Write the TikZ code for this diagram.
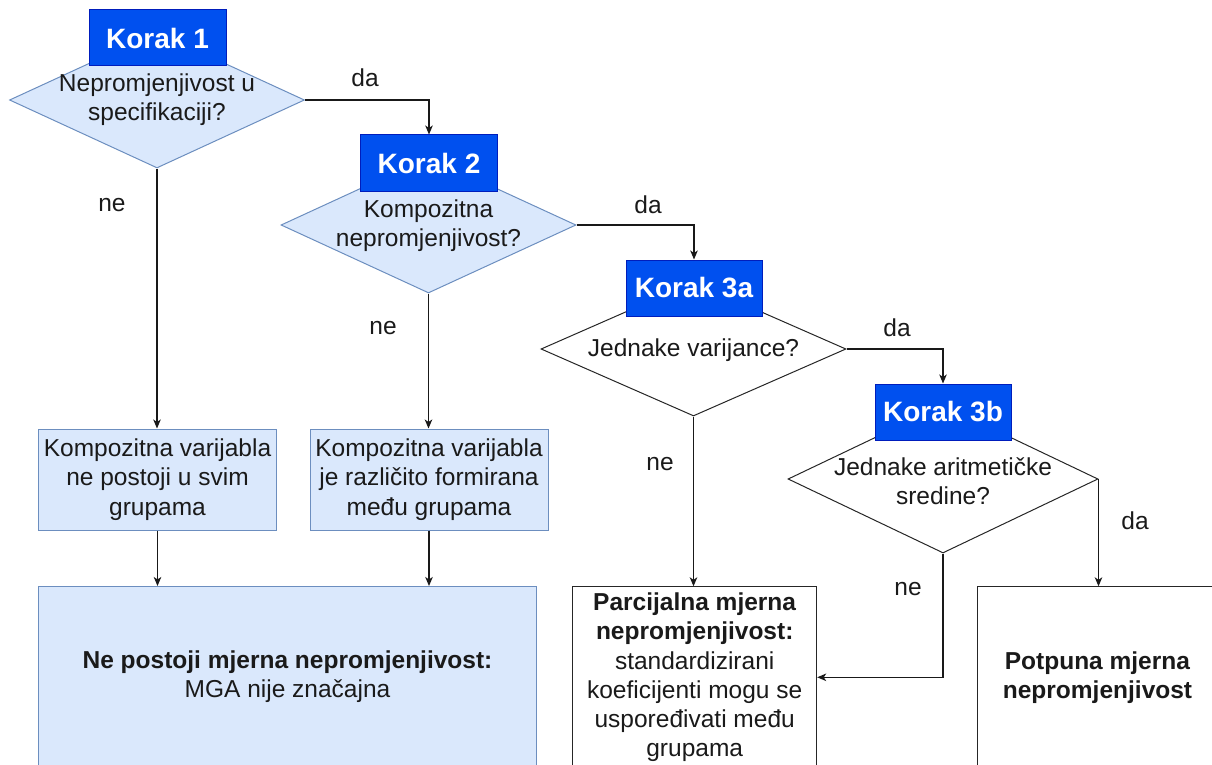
\documentclass[tikz,border=0pt]{standalone}
\usepackage{fontspec}
\setmainfont{Liberation Sans}
\usetikzlibrary{shapes.geometric,arrows.meta}
\definecolor{korakfill}{HTML}{0050EF}
\definecolor{korakline}{HTML}{001DBC}
\definecolor{lightfill}{HTML}{DAE8FC}
\definecolor{lightline}{HTML}{6C8EBF}
\definecolor{ink}{HTML}{1A1A1A}
\begin{document}
\begin{tikzpicture}[x=1pt,y=-1pt,
  every node/.style={font=\fontsize{24.5}{29.2}\selectfont, text=ink, align=center},
  korak/.style={rectangle, fill=korakfill, draw=korakline, line width=1pt,
    minimum width=137pt, minimum height=56pt, inner sep=0pt,
    text=white, font=\fontsize{28}{32}\selectfont\bfseries},
  question/.style={diamond, draw=lightline, fill=lightfill, line width=1pt, inner sep=0pt},
  plainq/.style={diamond, draw=black!85, fill=white, line width=1pt, inner sep=0pt},
  lbox/.style={rectangle, draw=lightline, fill=lightfill, line width=1pt, inner sep=0pt},
  wbox/.style={rectangle, draw=black!85, fill=white, line width=1pt, inner sep=0pt},
  arr/.style={draw=black!90, line width=1.2pt, -{Stealth[length=9pt,width=7.5pt,inset=2.5pt]}},
  edgelabel/.style={inner sep=0pt}
]
\useasboundingbox (0,0) rectangle (1212,765);
\clip (0,0) rectangle (1212,765);

% Step 1
\node[question, minimum width=295pt, minimum height=136pt] (d1) at (157,100) {};
\node (t1) at (157,100) {Nepromjenjivost u\\specifikaciji?};
\node[korak] (k1) at (157.5,38) {Korak 1};

% Step 2
\node[question, minimum width=295pt, minimum height=136pt] (d2) at (428.5,225) {};
\node (t2) at (428.5,226) {Kompozitna\\nepromjenjivost?};
\node[korak] (k2) at (429,163) {Korak 2};

% Step 3a
\node[plainq, minimum width=305pt, minimum height=134pt] (d3a) at (693.5,349) {};
\node (t3a) at (693.5,350) {Jednake varijance?};
\node[korak, minimum width=136pt] (k3a) at (694,288) {Korak 3a};

% Step 3b
\node[plainq, minimum width=310pt, minimum height=148pt] (d3b) at (943,479) {};
\node (t3b) at (943,481) {Jednake aritmetičke\\sredine?};
\node[korak, minimum width=136pt] (k3b) at (943,412) {Korak 3b};

% Result boxes
\node[lbox, minimum width=238pt, minimum height=101pt] (b1) at (157.5,479.5)
  {Kompozitna varijabla\\ne postoji u svim\\grupama};
\node[lbox, minimum width=238pt, minimum height=101pt] (b2) at (429,479.5)
  {Kompozitna varijabla\\je različito formirana\\među grupama};
\node[lbox, minimum width=498pt, minimum height=181pt] (big) at (287.5,677)
  {\textbf{Ne postoji mjerna nepromjenjivost:}\\MGA nije značajna};
\node[wbox, minimum width=244pt, minimum height=181pt] (par) at (694.7,677.3)
  {\textbf{Parcijalna mjerna}\\\textbf{nepromjenjivost:}\\standardizirani\\koeficijenti mogu se\\uspoređivati među\\grupama};
\node[wbox, minimum width=241pt, minimum height=181pt] (pot) at (1097.5,677.3)
  {\textbf{Potpuna mjerna}\\\textbf{nepromjenjivost}};

% Connectors
\draw[arr] (d1.east) -| (k2.north);
\draw[arr] (d2.east) -| (k3a.north);
\draw[arr] (d3a.east) -| (k3b.north);
\draw[arr] (d3b.east) -- (d3b.east |- pot.north);
\draw[arr] (d3b.south) |- (par.east);
\draw[arr] (d3a.south) -- (d3a.south |- par.north);
\draw[arr] (d1.south) -- (d1.south |- b1.north);
\draw[arr] (d2.south) -- (d2.south |- b2.north);
\draw[arr] (b1.south) -- (b1.south |- big.north);
\draw[arr] (b2.south) -- (b2.south |- big.north);

% Labels
\node[edgelabel] (l1) at (365,78) {da};
\node[edgelabel] (l2) at (648,205) {da};
\node[edgelabel] (l3) at (897,328) {da};
\node[edgelabel] (l4) at (1135,521) {da};
\node[edgelabel] (l5) at (112,205) {ne};
\node[edgelabel] (l6) at (383,328) {ne};
\node[edgelabel] (l7) at (660,464) {ne};
\node[edgelabel] (l8) at (908,589) {ne};
\end{tikzpicture}
\end{document}
